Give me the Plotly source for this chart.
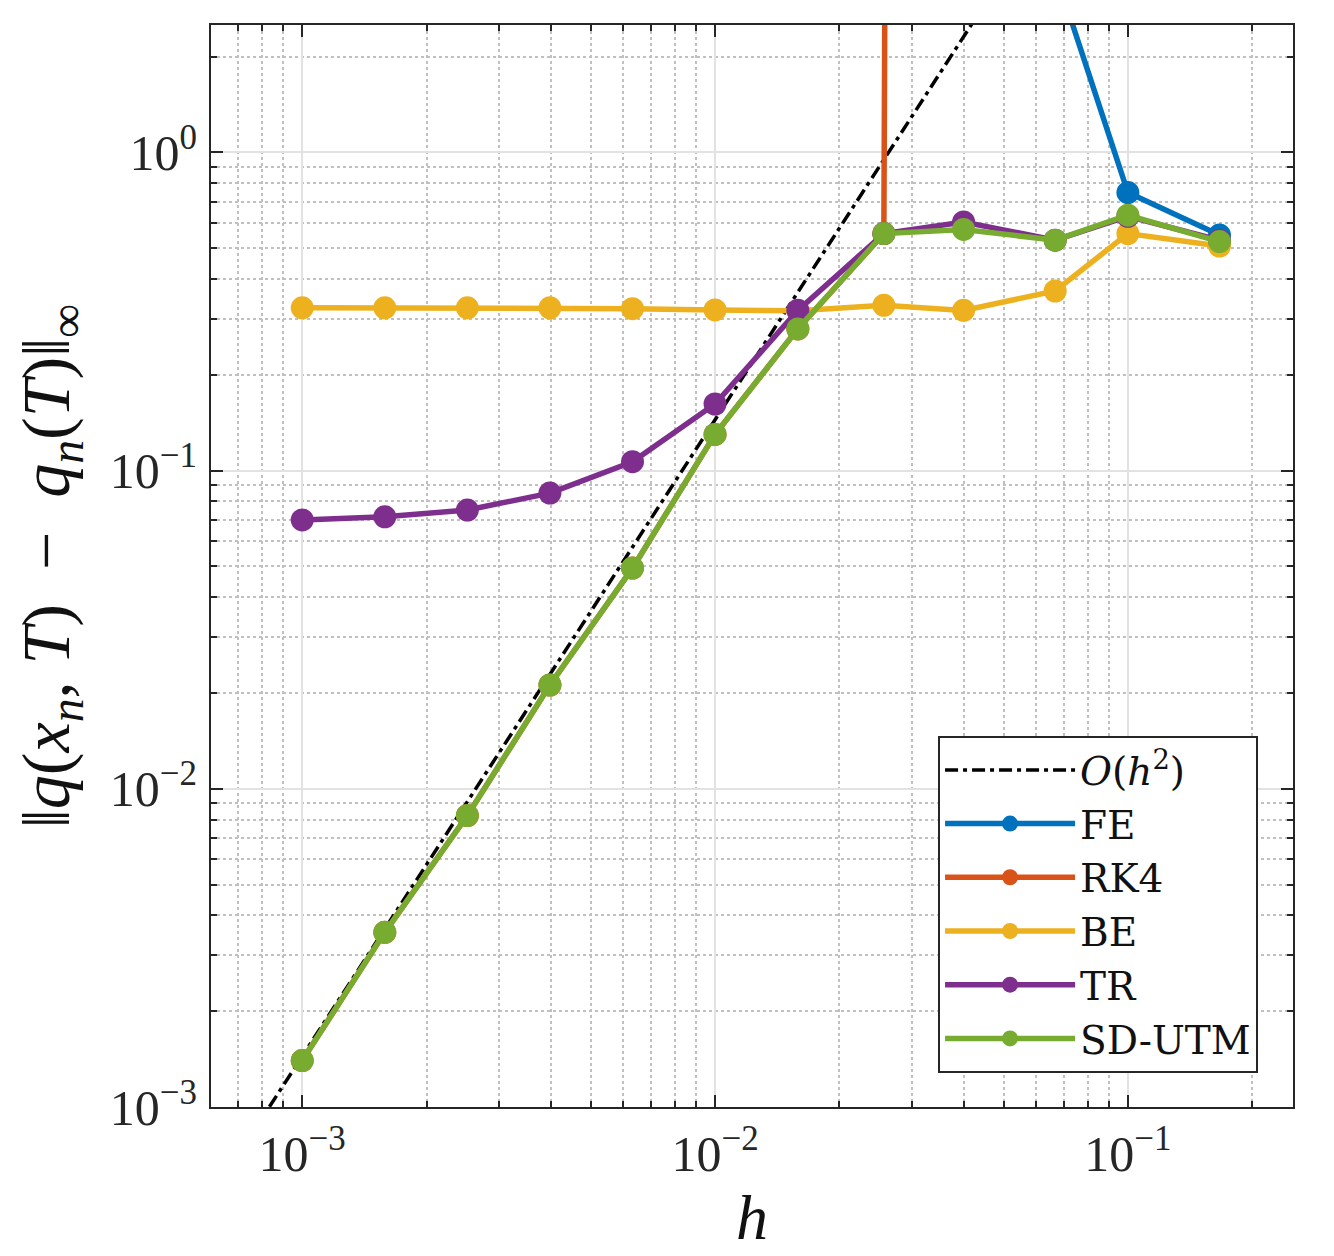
import plotly.graph_objects as go

# step sizes h
h = [1e-3, 1.585e-3, 2.512e-3, 3.981e-3, 6.31e-3, 1e-2,
     1.587e-2, 2.564e-2, 4e-2, 6.667e-2, 1e-1, 1.667e-1]

# max-norm errors per scheme (1e60 = blown up, off the chart)
err_fe = [1e60, 1e60, 1e60, 1e60, 1e60, 1e60,
          1e60, 1e60, 1e60, 3.7, 0.748, 0.55]
err_rk4 = [1.40e-3, 3.54e-3, 8.24e-3, 0.0212, 0.0494, 0.130,
           0.279, 0.556, 1e60, 1e60, 1e60, 1e60]
err_be = [0.325, 0.325, 0.325, 0.325, 0.323, 0.320,
          0.318, 0.331, 0.319, 0.367, 0.556, 0.508]
err_tr = [0.0700, 0.0716, 0.0752, 0.0850, 0.1067, 0.162,
          0.319, 0.556, 0.605, 0.530, 0.630, 0.530]
err_sd = [1.40e-3, 3.54e-3, 8.24e-3, 0.0212, 0.0494, 0.130,
          0.279, 0.556, 0.573, 0.530, 0.635, 0.525]

# O(h^2) reference line end points
ref_h = [6e-4, 0.3]
ref_err = [5.2e-4, 130.0]

names = ["FE", "RK4", "BE", "TR", "SD-UTM"]
colors = ["#0072BD", "#D95319", "#EDB120", "#7E2F8E", "#77AC30"]
series = [err_fe, err_rk4, err_be, err_tr, err_sd]

FONT = "Liberation Serif"
LEG_FONT = "DejaVu Serif"

fig = go.Figure()

fig.add_trace(go.Scatter(
    x=ref_h, y=ref_err, mode="lines",
    name="<i>O</i>(<i>h</i><sup>2</sup>)",
    line=dict(color="black", width=3.5, dash="13px,5px,4px,5px"),
))

for name, col, err in zip(names, colors, series):
    fig.add_trace(go.Scatter(
        x=h, y=err, mode="lines+markers", name=name,
        line=dict(color=col, width=5.5),
        marker=dict(color=col, size=23),
    ))

axis_common = dict(
    type="log",
    showline=True, linecolor="#262626", linewidth=2, mirror="ticks",
    ticks="inside", ticklen=12, tickwidth=2, tickcolor="#262626",
    showgrid=True, gridcolor="#e2e2e2", gridwidth=2,
    dtick=1, exponentformat="power",
    tickfont=dict(family=FONT, size=40, color="#262626"),
    zeroline=False,
    minor=dict(ticks="inside", ticklen=6, tickwidth=2, tickcolor="#262626",
               dtick="D1", showgrid=True, gridcolor="#c0c0c0",
               gridwidth=1.5, griddash="dot"),
)

ytitle = ("‖<i>q</i>(<i>x<sub>n</sub></i>,&nbsp;<i>T</i>)&nbsp;&nbsp;−&nbsp;&nbsp;"
          "<i>q<sub>n</sub></i>(<i>T</i>)‖<sub>∞</sub>")

fig.update_layout(
    width=1326, height=1248,
    margin=dict(l=203, r=41, t=17, b=149),
    paper_bgcolor="white", plot_bgcolor="white",
    font=dict(family=FONT, color="#262626"),
    showlegend=True,
    legend=dict(
        x=0.9677, y=0.0314, xanchor="right", yanchor="bottom",
        bgcolor="white", bordercolor="#262626", borderwidth=2,
        font=dict(family=LEG_FONT, size=39, color="#111111"),
        itemwidth=130,
    ),
    xaxis=dict(axis_common, range=[-3.221, -0.6], ticklabelstandoff=4,
               title=dict(text="<i>h</i>", font=dict(family=FONT, size=64, color="#111111"),
                          standoff=8)),
    yaxis=dict(axis_common, range=[-3, 0.4007], ticklabelstandoff=4,
               labelalias={"1": "10<sup>0</sup>"},
               title=dict(text=ytitle,
                          font=dict(family=FONT, size=68, color="#111111"),
                          standoff=18)),
)

fig.write_html("out.html")
